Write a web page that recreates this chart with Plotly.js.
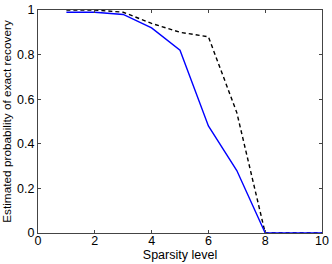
<!DOCTYPE html>
<html>
<head>
<meta charset="utf-8">
<script src="https://cdn.plot.ly/plotly-3.0.1.min.js"></script>
<style>html,body{margin:0;padding:0;background:#fff;}#chart{width:332px;height:264px;}</style>
</head>
<body>
<div id="chart"></div>
<script>
var sparsity = [1, 2, 3, 4, 5, 6, 7, 8, 9, 10];
var solidSeries = [0.99, 0.99, 0.98, 0.92, 0.82, 0.48, 0.28, 0, 0, 0];
var dashedSeries = [1.0, 1.0, 0.99, 0.94, 0.90, 0.88, 0.54, 0, 0, 0];
var xTicks = [0, 2, 4, 6, 8, 10];
var yTicks = [0, 0.2, 0.4, 0.6, 0.8, 1];
var yTickText = ['0', '0.2', '0.4', '0.6', '0.8', '1'];

var fam = 'Liberation Sans, Arial, sans-serif';
var tickFont = {family: fam, size: 12.5, color: '#000'};
var xTitleFont = {family: fam, size: 12.5, color: '#000'};
var yTitleFont = {family: fam, size: 11.8, color: '#000'};
var traces = [
  {x: sparsity, y: dashedSeries, mode: 'lines', line: {color: '#000000', width: 1.4, dash: '4px,3px'}, hoverinfo: 'none'},
  {x: sparsity, y: solidSeries, mode: 'lines', line: {color: '#0000ff', width: 1.4}, hoverinfo: 'none'}
];
var axisCommon = {
  showgrid: false, zeroline: false, showline: true, mirror: 'ticks',
  linecolor: '#444', linewidth: 1, ticks: 'inside', ticklen: 3, tickcolor: '#444',
  tickfont: tickFont
};
var layout = {
  width: 332, height: 264,
  margin: {l: 38, r: 10, t: 10, b: 31, pad: 0},
  showlegend: false,
  paper_bgcolor: '#fff', plot_bgcolor: '#fff',
  font: tickFont,
  xaxis: Object.assign({}, axisCommon, {
    range: [0, 10], tickvals: xTicks, ticktext: xTicks.map(String),
    ticklabelstandoff: -4,
    title: {text: 'Sparsity level', font: xTitleFont, standoff: 0}
  }),
  yaxis: Object.assign({}, axisCommon, {
    range: [0, 1], tickvals: yTicks, ticktext: yTickText,
    title: {text: 'Estimated probability of exact recovery', font: yTitleFont, standoff: 2}
  })
};
Plotly.newPlot('chart', traces, layout, {staticPlot: true, displayModeBar: false});
</script>
</body>
</html>
